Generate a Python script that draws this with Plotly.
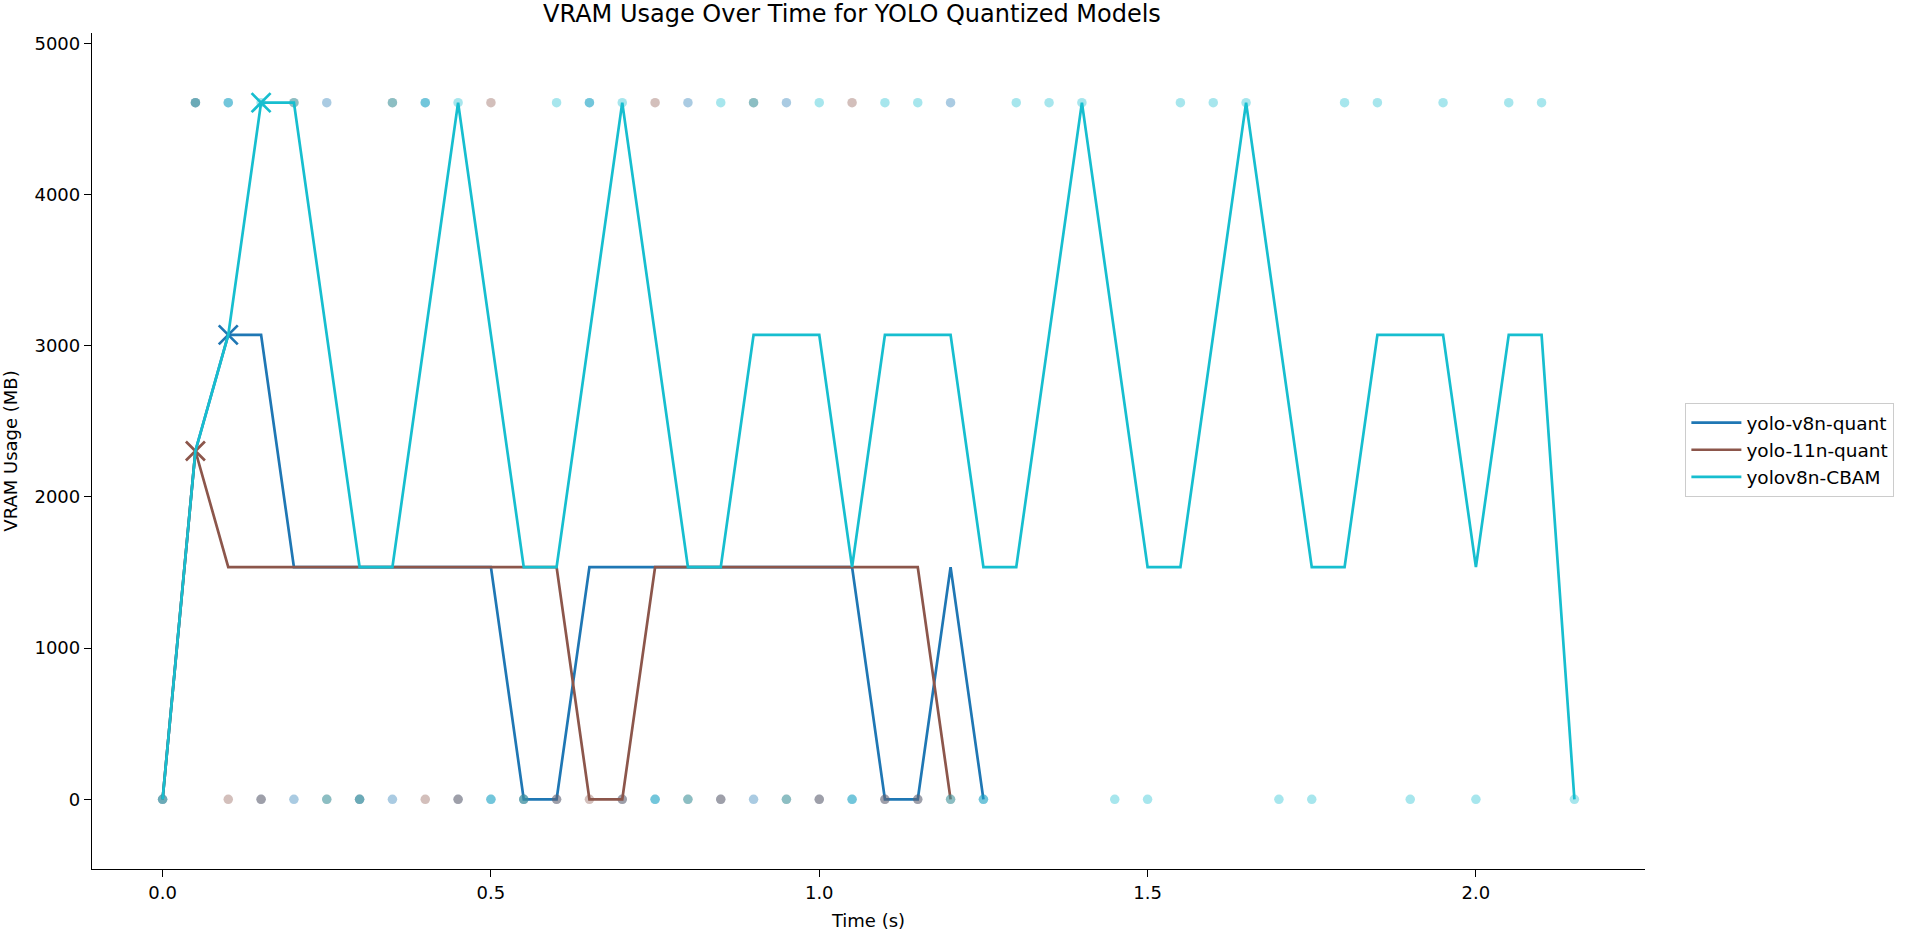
import plotly.graph_objects as go

# sample times (s), one sample every 0.05 s
TIME = [0.00, 0.05, 0.10, 0.15, 0.20, 0.25, 0.30, 0.35, 0.40, 0.45,
        0.50, 0.55, 0.60, 0.65, 0.70, 0.75, 0.80, 0.85, 0.90, 0.95,
        1.00, 1.05, 1.10, 1.15, 1.20, 1.25, 1.30, 1.35, 1.40, 1.45,
        1.50, 1.55, 1.60, 1.65, 1.70, 1.75, 1.80, 1.85, 1.90, 1.95,
        2.00, 2.05, 2.10, 2.15]

MODELS = ["yolo-v8n-quant", "yolo-11n-quant", "yolov8n-CBAM"]
COLORS = ["#1f77b4", "#8c564b", "#17becf"]

# VRAM usage (MB) per sample
vram_v8n = [0, 2304, 3072, 3072, 1536, 1536, 1536, 1536, 1536, 1536,
            1536, 0, 0, 1536, 1536, 1536, 1536, 1536, 1536, 1536,
            1536, 1536, 0, 0, 1536, 0]
vram_11n = [0, 2304, 1536, 1536, 1536, 1536, 1536, 1536, 1536, 1536,
            1536, 1536, 1536, 0, 0, 1536, 1536, 1536, 1536, 1536,
            1536, 1536, 1536, 1536, 0]
vram_cbam = [0, 2304, 3072, 4608, 4608, 3072, 1536, 1536, 3072, 4608,
             3072, 1536, 1536, 3072, 4608, 3072, 1536, 1536, 3072, 3072,
             3072, 1536, 3072, 3072, 3072, 1536, 1536, 3072, 4608, 3072,
             1536, 1536, 3072, 4608, 3072, 1536, 1536, 3072, 3072, 3072,
             1536, 3072, 3072, 0]

# per-sample activity flag (1 = active, drawn at the top row)
active_v8n = [0, 1, 1, 0, 0, 1, 0, 0, 1, 0, 0, 0, 0, 1, 0, 0, 1, 0, 0, 1,
              0, 0, 0, 0, 1, 0]
active_11n = [0, 1, 0, 0, 1, 0, 0, 1, 0, 0, 1, 0, 0, 0, 0, 1, 0, 0, 1, 0,
              0, 1, 0, 0, 0]
active_cbam = [0, 1, 1, 1, 1, 0, 0, 1, 1, 1, 0, 0, 1, 1, 1, 0, 0, 1, 1, 0,
               1, 0, 1, 1, 0, 0, 1, 1, 1, 0, 0, 1, 1, 1, 0, 0, 1, 1, 0, 1,
               0, 1, 1, 0]

VRAM = [vram_v8n, vram_11n, vram_cbam]
ACTIVE = [active_v8n, active_11n, active_cbam]

peak_all = max(max(v) for v in VRAM)

fig = go.Figure()

for name, color, vram, active in zip(MODELS, COLORS, VRAM, ACTIVE):
    t = TIME[:len(vram)]
    fig.add_trace(go.Scatter(x=t, y=vram, mode='lines', name=name,
                             line=dict(color=color, width=2.7),
                             hoverinfo='none'))
    # activity markers
    fig.add_trace(go.Scatter(x=t, y=[a * peak_all for a in active],
                             mode='markers', showlegend=False,
                             marker=dict(size=9.5, color=color, opacity=0.38,
                                         line=dict(width=0)),
                             hoverinfo='none'))
    # peak marker
    k = vram.index(max(vram))
    fig.add_trace(go.Scatter(x=[t[k]], y=[vram[k]], mode='markers',
                             showlegend=False,
                             marker=dict(symbol='x-thin', size=19,
                                         line=dict(color=color, width=2.7)),
                             hoverinfo='none'))

axis_common = dict(showgrid=False, zeroline=False, showline=True,
                   linecolor='black', linewidth=1.3, ticks='outside',
                   ticklen=7, tickwidth=1.3, tickcolor='black',
                   tickfont=dict(size=18, color='black'), mirror=False,
                   automargin=False)

fig.update_layout(
    width=1906, height=931,
    margin=dict(l=92, r=261, t=33, b=62, autoexpand=False),
    plot_bgcolor='white', paper_bgcolor='white',
    font=dict(family='DejaVu Sans', color='black'),
    title=dict(text='VRAM Usage Over Time for YOLO Quantized Models',
               x=0.447, xanchor='center', xref='container',
               y=0.985, yanchor='middle', yref='container',
               pad=dict(t=0, b=0), automargin=False,
               font=dict(size=24)),
    xaxis=dict(axis_common, range=[-0.1075, 2.2575], tickvals=[0, 0.5, 1, 1.5, 2],
               tickformat='.1f',
               title=dict(text='Time (s)', font=dict(size=18), standoff=13)),
    yaxis=dict(axis_common, range=[-0.1 * peak_all, 1.1 * peak_all],
               tickvals=[0, 1000, 2000, 3000, 4000, 5000],
               title=dict(text='VRAM Usage (MB)', font=dict(size=18), standoff=16)),
    legend=dict(x=1.026, y=0.501, xanchor='left', yanchor='middle',
                bordercolor='#cccccc', borderwidth=1, itemwidth=50,
                font=dict(size=18.5), tracegroupgap=0),
    showlegend=True,
)

fig.write_html("out.html", config={'displayModeBar': False},
               post_script="document.body.style.margin='0';")
